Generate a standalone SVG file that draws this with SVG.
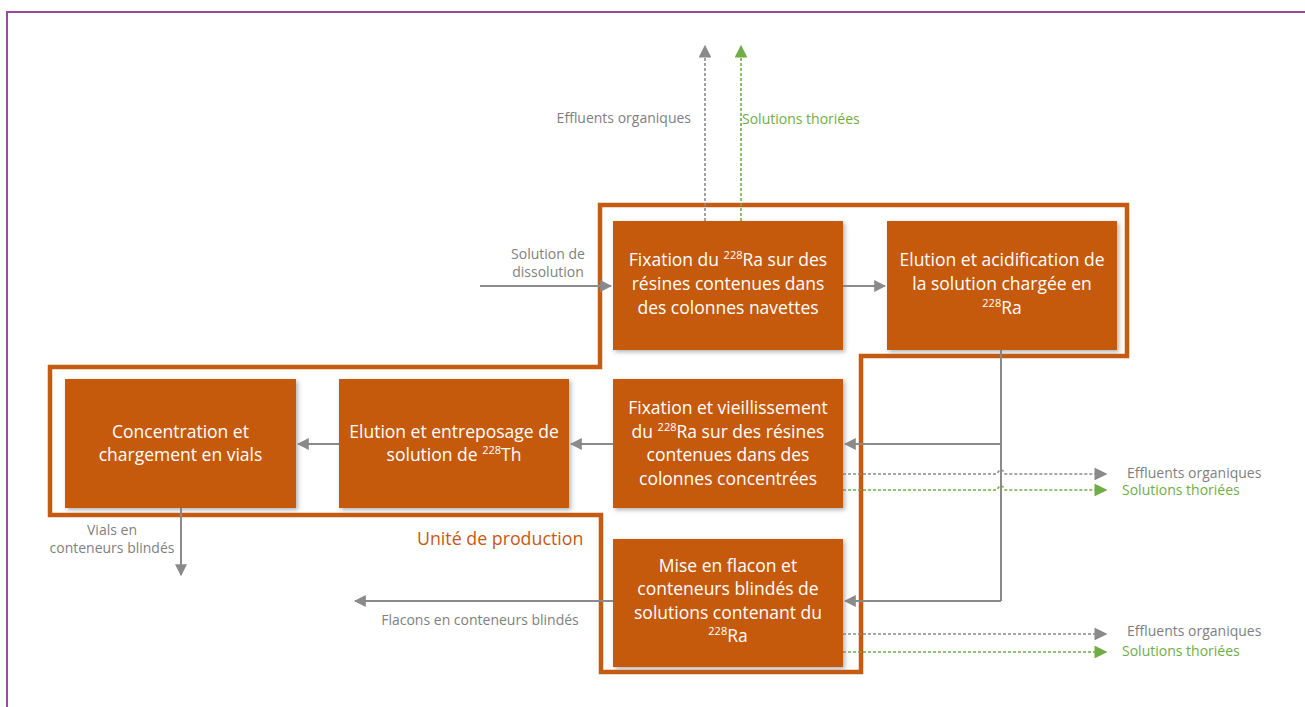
<svg xmlns="http://www.w3.org/2000/svg" width="1305" height="707" viewBox="0 0 1305 707">
  <style>
    .box { fill: #c55a11; filter: url(#shadow); }
    .boxtxt { font-family: "Open Sans", "Liberation Sans", sans-serif; font-size: 17.5px; fill: #ffffff; text-anchor: middle; }
    .lbl { font-family: "Open Sans", "Liberation Sans", sans-serif; font-size: 14px; fill: #7f7f7f; }
    .lblg { font-family: "Open Sans", "Liberation Sans", sans-serif; font-size: 14px; fill: #70ad47; }
    .flow { fill: none; stroke: #8a8a8a; stroke-width: 2; }
    .dashg { fill: none; stroke: #8a8a8a; stroke-width: 1.6; stroke-dasharray: 3 2; }
    .dashv { fill: none; stroke: #70ad47; stroke-width: 1.6; stroke-dasharray: 3 2; }
  </style>
  <defs>
    <filter id="shadow" x="-10%" y="-10%" width="125%" height="125%">
      <feDropShadow dx="2" dy="2" stdDeviation="2" flood-color="#808080" flood-opacity="0.6"/>
    </filter>
    <marker id="arrG" viewBox="0 0 10 10" refX="9" refY="5" markerWidth="6" markerHeight="6" markerUnits="strokeWidth" orient="auto">
      <path d="M0,0 L10,5 L0,10 Z" fill="#8a8a8a"/>
    </marker>
    <marker id="arrGd" viewBox="0 0 10 10" refX="9" refY="5" markerWidth="8" markerHeight="8" markerUnits="strokeWidth" orient="auto">
      <path d="M0,0 L10,5 L0,10 Z" fill="#8a8a8a"/>
    </marker>
    <marker id="arrV" viewBox="0 0 10 10" refX="9" refY="5" markerWidth="8" markerHeight="8" markerUnits="strokeWidth" orient="auto">
      <path d="M0,0 L10,5 L0,10 Z" fill="#70ad47"/>
    </marker>
  </defs>

  <rect width="1305" height="707" fill="#ffffff"/>
  <!-- page frame -->
  <path d="M7,707 V12 H1305" fill="none" stroke="#9a4b9e" stroke-width="2"/>

  <!-- production unit outline -->
  <g id="unite-production">
    <path d="M600,205 H1127 V356 H861 V672 H601 V515 H50 V367 H600 Z" fill="none" stroke="#c55a11" stroke-width="4.5"/>
    <text x="417" y="545" font-family="'Open Sans', 'Liberation Sans', sans-serif" font-size="17.8" fill="#c55a11">Unité de production</text>
  </g>

  <!-- connectors -->
  <g id="connectors">
    <path class="flow" d="M480,286 H611" marker-end="url(#arrG)"/>
    <path class="flow" d="M843,286 H885" marker-end="url(#arrG)"/>
    <path class="flow" d="M1001,350 V601"/>
    <path class="flow" d="M1001,444 H845" marker-end="url(#arrG)"/>
    <path class="flow" d="M1001,601 H845" marker-end="url(#arrG)"/>
    <path class="flow" d="M613,444 H571" marker-end="url(#arrG)"/>
    <path class="flow" d="M339,444 H298" marker-end="url(#arrG)"/>
    <path class="flow" d="M181,508 V575" marker-end="url(#arrG)"/>
    <path class="flow" d="M613,601 H355" marker-end="url(#arrG)"/>

    <path class="dashg" d="M705,221 V46" marker-end="url(#arrGd)"/>
    <path class="dashv" d="M741,221 V46" marker-end="url(#arrV)"/>

    <path class="dashg" d="M843,474 H997 q2,-4 4,-4 q2,0 4,4 H1106" marker-end="url(#arrGd)"/>
    <path class="dashv" d="M843,490 H997 q2,-4 4,-4 q2,0 4,4 H1106" marker-end="url(#arrV)"/>
    <path class="dashg" d="M843,634 H1106" marker-end="url(#arrGd)"/>
    <path class="dashv" d="M843,652 H1106" marker-end="url(#arrV)"/>
  </g>

  <!-- flow labels -->
  <g id="labels">
    <text class="lbl" x="691" y="123" text-anchor="end">Effluents organiques</text>
    <text class="lblg" x="742" y="124">Solutions thoriées</text>
    <text class="lbl" x="548" y="259" text-anchor="middle">Solution de</text>
    <text class="lbl" x="548" y="277" text-anchor="middle">dissolution</text>
    <text class="lbl" x="112" y="535" text-anchor="middle">Vials en</text>
    <text class="lbl" x="112" y="553" text-anchor="middle">conteneurs blindés</text>
    <text class="lbl" x="480" y="625" text-anchor="middle">Flacons en conteneurs blindés</text>
    <text class="lbl" x="1127" y="478">Effluents organiques</text>
    <text class="lblg" x="1122" y="495">Solutions thoriées</text>
    <text class="lbl" x="1127" y="636">Effluents organiques</text>
    <text class="lblg" x="1122" y="656">Solutions thoriées</text>
  </g>

  <g id="fixation-navettes">
    <rect class="box" x="613" y="221" width="230" height="129"/>
    <text class="boxtxt" x="728" y="266">Fixation du <tspan font-size="11" dy="-7">228</tspan><tspan dy="7">Ra sur des</tspan></text>
    <text class="boxtxt" x="728" y="290">résines contenues dans</text>
    <text class="boxtxt" x="728" y="314">des colonnes navettes</text>
  </g>

  <g id="elution-acidification">
    <rect class="box" x="887" y="221" width="230" height="129"/>
    <text class="boxtxt" x="1002" y="266">Elution et acidification de</text>
    <text class="boxtxt" x="1002" y="290">la solution chargée en</text>
    <text class="boxtxt" x="1002" y="314"><tspan font-size="11" dy="-7">228</tspan><tspan dy="7">Ra</tspan></text>
  </g>

  <g id="fixation-concentrees">
    <rect class="box" x="613" y="379" width="230" height="129"/>
    <text class="boxtxt" x="728" y="414">Fixation et vieillissement</text>
    <text class="boxtxt" x="728" y="438">du <tspan font-size="11" dy="-7">228</tspan><tspan dy="7">Ra sur des résines</tspan></text>
    <text class="boxtxt" x="728" y="461">contenues dans des</text>
    <text class="boxtxt" x="728" y="485">colonnes concentrées</text>
  </g>

  <g id="elution-entreposage">
    <rect class="box" x="339" y="379" width="230" height="129"/>
    <text class="boxtxt" x="454" y="438">Elution et entreposage de</text>
    <text class="boxtxt" x="454" y="461">solution de <tspan font-size="11" dy="-7">228</tspan><tspan dy="7">Th</tspan></text>
  </g>

  <g id="concentration-vials">
    <rect class="box" x="65" y="379" width="231" height="129"/>
    <text class="boxtxt" x="180.5" y="438">Concentration et</text>
    <text class="boxtxt" x="180.5" y="461">chargement en vials</text>
  </g>

  <g id="mise-en-flacon">
    <rect class="box" x="613" y="539" width="230" height="128"/>
    <text class="boxtxt" x="728" y="572">Mise en flacon et</text>
    <text class="boxtxt" x="728" y="595">conteneurs blindés de</text>
    <text class="boxtxt" x="728" y="619">solutions contenant du</text>
    <text class="boxtxt" x="728" y="642"><tspan font-size="11" dy="-7">228</tspan><tspan dy="7">Ra</tspan></text>
  </g>
</svg>
